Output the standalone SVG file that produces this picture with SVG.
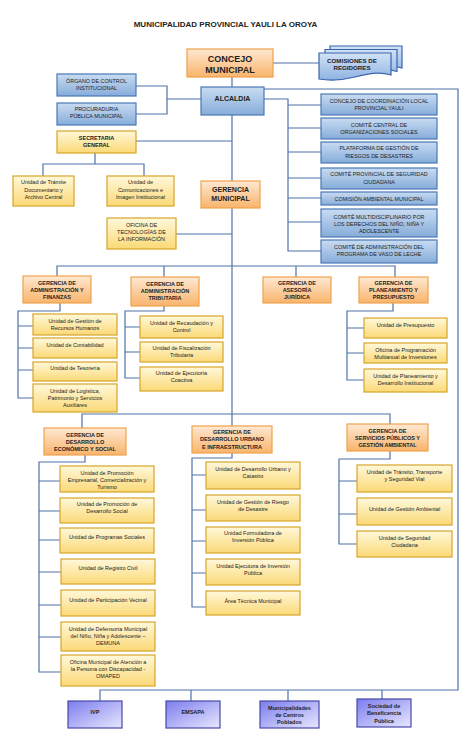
<svg xmlns="http://www.w3.org/2000/svg" width="474" height="740" viewBox="0 0 474 740">
<defs>
<linearGradient id="gb" x1="0" y1="0" x2="0" y2="1"><stop offset="0" stop-color="#c9dcf2"/><stop offset="1" stop-color="#86acda"/></linearGradient>
<linearGradient id="gy" x1="0" y1="0" x2="0" y2="1"><stop offset="0" stop-color="#fff8da"/><stop offset="1" stop-color="#fbd977"/></linearGradient>
<linearGradient id="go" x1="0" y1="0" x2="0" y2="1"><stop offset="0" stop-color="#fee8d2"/><stop offset="1" stop-color="#f9b46b"/></linearGradient>
<linearGradient id="gp" x1="0" y1="0" x2="1" y2="1"><stop offset="0" stop-color="#7c7cee"/><stop offset="1" stop-color="#e8e8ff"/></linearGradient>
<linearGradient id="gc" x1="0" y1="0" x2="0" y2="1"><stop offset="0" stop-color="#d2e2f6"/><stop offset="1" stop-color="#8fb3e2"/></linearGradient>
<path id="doc" d="M0,0 H72 V22 C60,18 48,21 36,24 C24,27 12,28 0,26 Z"/>
</defs>
<style>
.b{fill:url(#gb);stroke:#4a78b5;stroke-width:1.2}
.y{fill:url(#gy);stroke:#d6a52a;stroke-width:1.2}
.o{fill:url(#go);stroke:#eea24c;stroke-width:1.2}
.p{fill:url(#gp);stroke:#4848a8;stroke-width:1.2}
.c{fill:url(#gc);stroke:#3a66b0;stroke-width:1.2}
text{font-family:"Liberation Sans",Arial,sans-serif;text-anchor:middle;fill:#222}
.s{font-size:5.5px}
.h{font-size:5.5px;font-weight:bold}
.r{font-size:5.4px}
#conn path{fill:none;stroke:#4f72a8;stroke-width:1.2}
</style>
<rect width="474" height="740" fill="#fff"/>
<text x="225.5" y="27" style="font-size:8px;font-weight:bold">MUNICIPALIDAD PROVINCIAL YAULI LA OROYA</text>

<g id="conn">
<path d="M232,77 V87"/>
<path d="M273,63 H319"/>
<path d="M136,86 H167 V114 H136 M167,99 H201"/>
<path d="M264,89 H458 V690 H100 V701 M191,690 V701 M288,690 V701 M382,690 V699"/>
<path d="M264,99 H288 V251 H321 M288,105 H321 M288,128 H321 M288,152 H321 M288,178 H321 M288,198 H321 M288,222 H321"/>
<path d="M232,115 V426"/>
<path d="M136,141 H232"/>
<path d="M95,153 V164 M43,176 V164 H144 V176"/>
<path d="M176,234 H232"/>
<path d="M57,276 V266 H395 V277 M164,266 V277 M296,266 V277"/>
<path d="M60,303 V311 H18 V398 H33 M18,326 H33 M18,348 H33 M18,370 H33"/>
<path d="M164,306 V311 H125 V378 H140 M125,327 H140 M125,352 H140"/>
<path d="M393,303 V311 H347 V380 H364 M347,328 H364 M347,353 H364"/>
<path d="M82,428 V414 H390 V424"/>
<path d="M85,455 V462 H39 V672 H61 M39,481 H60 M39,511 H60 M39,540 H60 M39,572 H61 M39,605 H61 M39,637 H61"/>
<path d="M232,453 V458 H192 V607 H206 M192,475 H206 M192,510 H206 M192,541 H206 M192,573 H206"/>
<path d="M390,451 V459 H339 V544 H357 M339,481 H357 M339,514 H357"/>
</g>

<g id="concejo"><rect class="o" x="187" y="49" width="86" height="28" style="fill:url(#go);stroke:#eea04a"/><text x="230" y="61.5" style="font-size:9px;font-weight:bold">CONCEJO</text><text x="230" y="72.5" style="font-size:9px;font-weight:bold">MUNICIPAL</text></g>
<g id="comisiones">
<use href="#doc" x="330" y="46" class="c"/>
<use href="#doc" x="325" y="49.5" class="c"/>
<use href="#doc" x="319" y="53" class="c"/>
<text x="352" y="62.5" style="font-size:6.2px;font-weight:bold">COMISIONES DE</text>
<text x="352" y="70" style="font-size:6.2px;font-weight:bold">REGIDORES</text>
</g>
<g id="organo"><rect class="b" x="57" y="74" width="79" height="22"/><text class="r" x="96.5" y="82.5">ÓRGANO DE CONTROL</text><text class="r" x="96.5" y="89.5">INSTITUCIONAL</text></g>
<g id="procuraduria"><rect class="b" x="57" y="103" width="79" height="22"/><text class="r" x="96.5" y="111">PROCURADURIA</text><text class="r" x="96.5" y="118">PÚBLICA MUNICIPAL</text></g>
<g id="alcaldia"><rect class="b" x="201" y="87" width="63" height="28"/><text x="232.5" y="101" style="font-size:7px;font-weight:bold">ALCALDIA</text></g>

<g id="ccl"><rect class="b" x="321" y="94" width="116" height="21"/><text class="r" x="379" y="103">CONCEJO DE COORDINACIÓN LOCAL</text><text class="r" x="379" y="110">PROVINCIAL YAULI</text></g>
<g id="ccos"><rect class="b" x="321" y="118" width="116" height="21"/><text class="r" x="379" y="127">COMITÉ CENTRAL DE</text><text class="r" x="379" y="134">ORGANIZACIONES SOCIALES</text></g>
<g id="pgrd"><rect class="b" x="321" y="142" width="116" height="21"/><text class="r" x="379" y="150">PLATAFORMA DE GESTIÓN DE</text><text class="r" x="379" y="158">RIESGOS DE DESASTRES</text></g>
<g id="cpsc"><rect class="b" x="321" y="168" width="116" height="21"/><text class="r" x="379" y="176">COMITÉ PROVINCIAL DE SEGURIDAD</text><text class="r" x="379" y="184">CIUDADANA</text></g>
<g id="cam"><rect class="b" x="321" y="192" width="116" height="13"/><text class="r" x="379" y="201">COMISIÓN AMBIENTAL MUNICIPAL</text></g>
<g id="cmd"><rect class="b" x="321" y="209" width="116" height="28"/><text class="r" x="379" y="219">COMITÉ MULTIDISCIPLINARIO POR</text><text class="r" x="379" y="226">LOS DERECHOS DEL NIÑO, NIÑA Y</text><text class="r" x="379" y="233">ADOLESCENTE</text></g>
<g id="cvl"><rect class="b" x="321" y="240" width="116" height="23"/><text class="r" x="379" y="249">COMITÉ DE ADMINISTRACIÓN DEL</text><text class="r" x="379" y="256">PROGRAMA DE VASO DE LECHE</text></g>

<g id="secretaria"><rect class="y" x="57" y="131" width="79" height="22"/><text class="h" x="96.5" y="140">SECRETARIA</text><text class="h" x="96.5" y="147">GENERAL</text></g>
<g id="tramite"><rect class="y" x="13" y="176" width="61" height="30"/><text class="s" x="43.5" y="184">Unidad de Trámite</text><text class="s" x="43.5" y="192">Documentario y</text><text class="s" x="43.5" y="199">Archivo Central</text></g>
<g id="comunicaciones"><rect class="y" x="107" y="176" width="67" height="30"/><text class="s" x="140.5" y="184">Unidad de</text><text class="s" x="140.5" y="192">Comunicaciones e</text><text class="s" x="140.5" y="199">Imagen Institucional</text></g>
<g id="oti"><rect class="y" x="107" y="218" width="69" height="31"/><text class="s" x="141.5" y="227">OFICINA DE</text><text class="s" x="141.5" y="234">TECNOLOGÍAS DE</text><text class="s" x="141.5" y="241">LA INFORMACIÓN</text></g>
<g id="gmunicipal"><rect class="o" x="201" y="181" width="59" height="27"/><text x="230.5" y="192" style="font-size:7px;font-weight:bold">GERENCIA</text><text x="230.5" y="201" style="font-size:7px;font-weight:bold">MUNICIPAL</text></g>

<g id="gaf"><rect class="o" x="23" y="276" width="68" height="27"/><text class="h" x="57" y="285">GERENCIA DE</text><text class="h" x="57" y="292">ADMINISTRACIÓN Y</text><text class="h" x="57" y="299">FINANZAS</text></g>
<g id="gat"><rect class="o" x="131" y="277" width="68" height="29"/><text class="h" x="165" y="286">GERENCIA DE</text><text class="h" x="165" y="293">ADMINISTRACIÓN</text><text class="h" x="165" y="300">TRIBUTARIA</text></g>
<g id="gaj"><rect class="o" x="263" y="277" width="68" height="26"/><text class="h" x="297" y="285">GERENCIA DE</text><text class="h" x="297" y="292">ASESORÍA</text><text class="h" x="297" y="299">JURÍDICA</text></g>
<g id="gpp"><rect class="o" x="359" y="277" width="69" height="26"/><text class="h" x="393.5" y="285">GERENCIA DE</text><text class="h" x="393.5" y="292">PLANEAMIENTO Y</text><text class="h" x="393.5" y="299">PRESUPUESTO</text></g>

<g id="rrhh"><rect class="y" x="33" y="314" width="84" height="21"/><text class="s" x="75" y="323">Unidad de Gestión de</text><text class="s" x="75" y="330">Recursos Humanos</text></g>
<g id="contab"><rect class="y" x="33" y="338" width="84" height="20"/><text class="s" x="75" y="347">Unidad de Contabilidad</text></g>
<g id="tesor"><rect class="y" x="33" y="362" width="84" height="19"/><text class="s" x="75" y="370">Unidad de Tesorería</text></g>
<g id="logis"><rect class="y" x="33" y="384" width="84" height="28"/><text class="s" x="75" y="393">Unidad de Logística,</text><text class="s" x="75" y="400">Patrimonio y Servicios</text><text class="s" x="75" y="407">Auxiliares</text></g>

<g id="recaud"><rect class="y" x="140" y="316" width="83" height="22"/><text class="s" x="181.5" y="325">Unidad de Recaudación y</text><text class="s" x="181.5" y="332">Control</text></g>
<g id="fiscal"><rect class="y" x="140" y="342" width="83" height="20"/><text class="s" x="181.5" y="350">Unidad de Fiscalización</text><text class="s" x="181.5" y="357">Tributaria</text></g>
<g id="ejecut"><rect class="y" x="140" y="367" width="83" height="24"/><text class="s" x="181.5" y="375">Unidad de Ejecutoría</text><text class="s" x="181.5" y="382">Coactiva</text></g>

<g id="presup"><rect class="y" x="364" y="318" width="83" height="20"/><text class="s" x="405.5" y="327">Unidad de Presupuesto</text></g>
<g id="opmi"><rect class="y" x="364" y="343" width="83" height="20"/><text class="s" x="405.5" y="352">Oficina de Programación</text><text class="s" x="405.5" y="359">Multianual de Inversiones</text></g>
<g id="planea"><rect class="y" x="364" y="369" width="83" height="23"/><text class="s" x="405.5" y="378">Unidad de Planeamiento y</text><text class="s" x="405.5" y="385">Desarrollo Institucional</text></g>

<g id="gdes"><rect class="o" x="44" y="428" width="82" height="27"/><text class="h" x="85" y="437">GERENCIA DE</text><text class="h" x="85" y="444">DESARROLLO</text><text class="h" x="85" y="451">ECONÓMICO Y SOCIAL</text></g>
<g id="gdui"><rect class="o" x="192" y="426" width="80" height="27"/><text class="h" x="232" y="434">GERENCIA DE</text><text class="h" x="232" y="441">DESARROLLO URBANO</text><text class="h" x="232" y="449">E INFRAESTRUCTURA</text></g>
<g id="gspa"><rect class="o" x="347" y="424" width="81" height="27"/><text class="h" x="387.5" y="433">GERENCIA DE</text><text class="h" x="387.5" y="440">SERVICIOS PÚBLICOS Y</text><text class="h" x="387.5" y="446.5">GESTIÓN AMBIENTAL</text></g>

<g id="promemp"><rect class="y" x="60" y="466" width="94" height="26"/><text class="s" x="107" y="475">Unidad de Promoción</text><text class="s" x="107" y="482">Empresarial, Comercialización y</text><text class="s" x="107" y="489">Turismo</text></g>
<g id="promsoc"><rect class="y" x="60" y="498" width="94" height="25"/><text class="s" x="107" y="506">Unidad de Promoción de</text><text class="s" x="107" y="513">Desarrollo Social</text></g>
<g id="progsoc"><rect class="y" x="60" y="528" width="94" height="25"/><text class="s" x="107" y="539">Unidad de Programas Sociales</text></g>
<g id="regciv"><rect class="y" x="61" y="559" width="94" height="25"/><text class="s" x="108" y="570">Unidad de Registro Civil</text></g>
<g id="partvec"><rect class="y" x="61" y="590" width="94" height="26"/><text class="s" x="108" y="602">Unidad de Participación Vecinal</text></g>
<g id="demuna"><rect class="y" x="61" y="622" width="94" height="29"/><text class="s" x="108" y="631">Unidad de Defensoría Municipal</text><text class="s" x="108" y="638">del Niño, Niña y Adolescente –</text><text class="s" x="108" y="645">DEMUNA</text></g>
<g id="omaped"><rect class="y" x="61" y="655" width="94" height="31"/><text class="s" x="108" y="664">Oficina Municipal de Atención a</text><text class="s" x="108" y="671">la Persona con Discapacidad -</text><text class="s" x="108" y="678">OMAPED</text></g>

<g id="catastro"><rect class="y" x="206" y="462" width="94" height="27"/><text class="s" x="253" y="471">Unidad de Desarrollo Urbano y</text><text class="s" x="253" y="478">Catastro</text></g>
<g id="riesgo"><rect class="y" x="206" y="495" width="94" height="26"/><text class="s" x="253" y="504">Unidad de Gestión de Riesgo</text><text class="s" x="253" y="511">de Desastre</text></g>
<g id="formul"><rect class="y" x="206" y="527" width="94" height="26"/><text class="s" x="253" y="535">Unidad Formuladora de</text><text class="s" x="253" y="542">Inversión Pública</text></g>
<g id="ejecinv"><rect class="y" x="206" y="559" width="94" height="26"/><text class="s" x="253" y="568">Unidad Ejecutora de Inversión</text><text class="s" x="253" y="575">Pública</text></g>
<g id="areatec"><rect class="y" x="206" y="591" width="94" height="24"/><text class="s" x="253" y="603">Área Técnica Municipal</text></g>

<g id="transito"><rect class="y" x="357" y="465" width="95" height="27"/><text class="s" x="404.5" y="474">Unidad de Tránsito, Transporte</text><text class="s" x="404.5" y="481">y Seguridad Vial</text></g>
<g id="gamb"><rect class="y" x="357" y="498" width="95" height="27"/><text class="s" x="404.5" y="511">Unidad de Gestión Ambiental</text></g>
<g id="segciu"><rect class="y" x="357" y="531" width="95" height="26"/><text class="s" x="404.5" y="540">Unidad de Seguridad</text><text class="s" x="404.5" y="547">Ciudadana</text></g>

<g id="ivp"><rect class="p" x="68" y="701" width="54" height="27"/><text class="h" x="95" y="714">IVP</text></g>
<g id="emsapa"><rect class="p" x="166" y="701" width="54" height="27"/><text class="h" x="193" y="714">EMSAPA</text></g>
<g id="mcp"><rect class="p" x="260" y="701" width="59" height="27"/><text class="h" x="289.5" y="710">Municipalidades</text><text class="h" x="289.5" y="717">de Centros</text><text class="h" x="289.5" y="724">Poblados</text></g>
<g id="sbp"><rect class="p" x="357" y="699" width="54" height="28"/><text class="h" x="384" y="708">Sociedad de</text><text class="h" x="384" y="715">Beneficencia</text><text class="h" x="384" y="723">Pública</text></g>
</svg>
